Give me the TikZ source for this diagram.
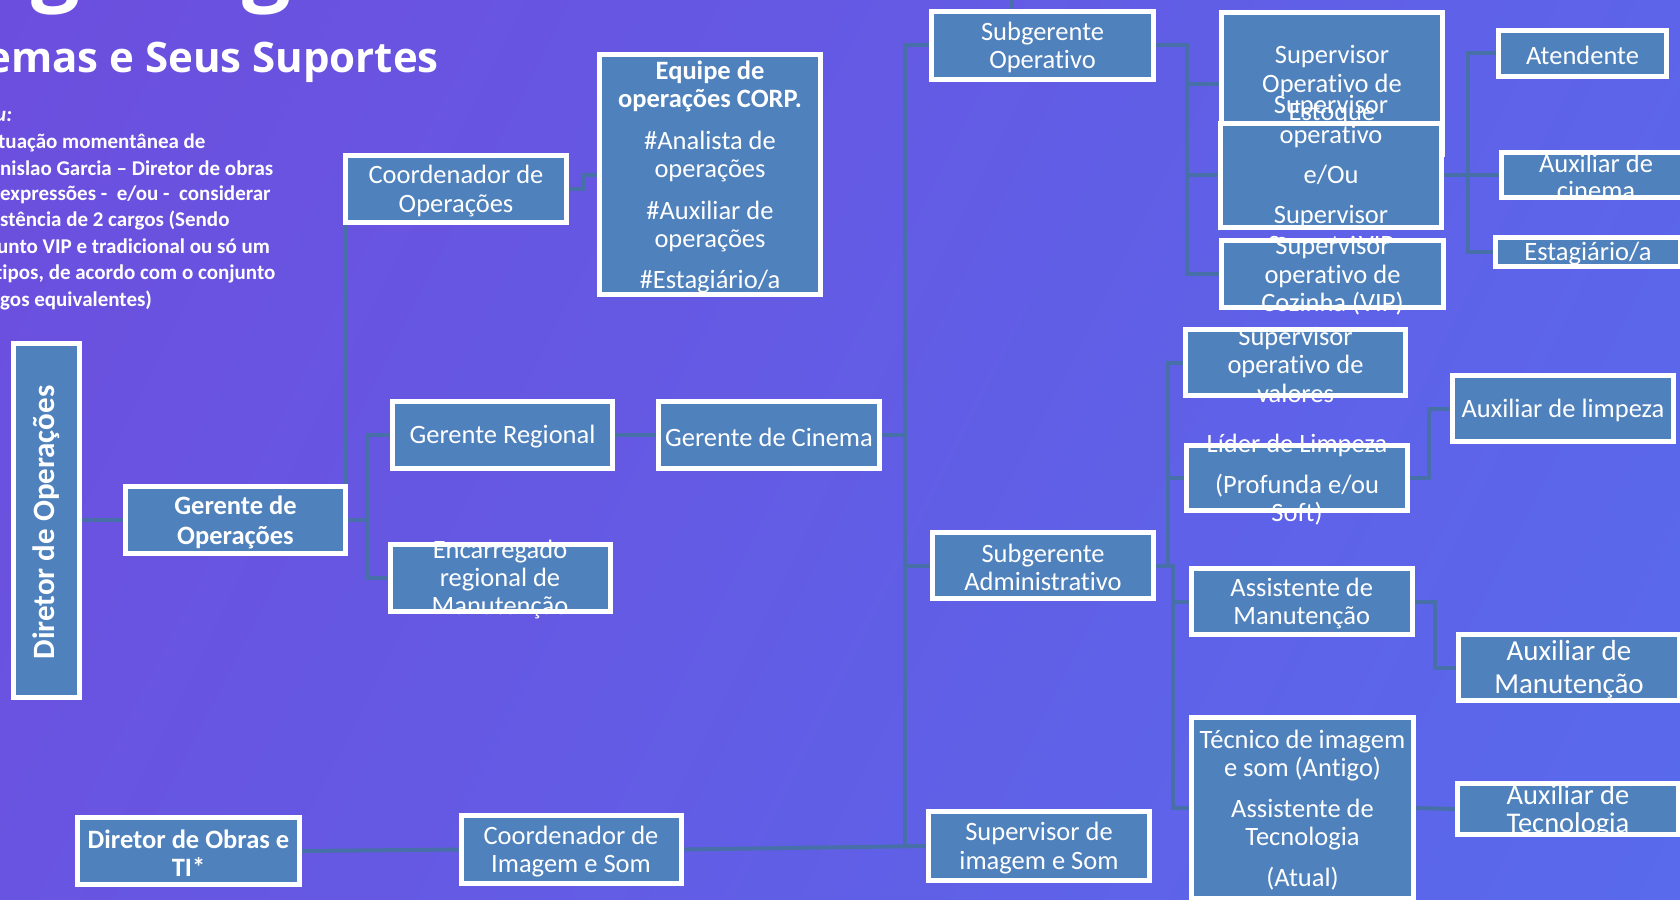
\documentclass[tikz,border=0pt]{standalone}
\usepackage{fontspec}
\setmainfont[Ligatures=NoCommon]{Carlito}
\newfontfamily\titlefont{Open Sans}
\definecolor{boxfill}{RGB}{79,129,189}
\definecolor{conn}{RGB}{72,112,168}
\pgfdeclarefunctionalshading{bgshade}{\pgfpointorigin}{\pgfpoint{100bp}{100bp}}{}{
 2 copy 0.00032 mul exch -0.00121 mul add 0.431 add
 3 1 roll
 2 copy -0.00047 mul exch 0.00173 mul add 0.298 add
 3 1 roll
 -0.00024 mul exch 0.00094 mul add 0.863 add
}
\pgfdeclarelayer{bglayer}
\pgfdeclarelayer{lines}
\pgfsetlayers{bglayer,lines,main}
\begin{document}
\begin{tikzpicture}[x=1pt,y=-1pt,
  orgbox/.style={rectangle, draw=white, line width=5pt, fill=boxfill, inner sep=0pt},
  boxtext/.style={text=white, align=center, inner sep=0pt, yshift=-2pt, font=\fontsize{26.5}{28.5}\selectfont},
  boldtext/.style={boxtext, font=\bfseries\fontsize{26.5}{28.5}\selectfont},
  conline/.style={draw=conn, line width=4pt, line cap=rect},
  notetext/.style={text=white, anchor=base west, inner sep=0pt, font=\bfseries\fontsize{21}{26}\selectfont}]
\useasboundingbox (0,0) rectangle (1680,899);
\begin{pgfonlayer}{bglayer}
\shade[shading=bgshade] (0,0) rectangle (1680,899);
\end{pgfonlayer}

% title and note
\node[anchor=base west, inner sep=0pt, text=white, font=\titlefont\bfseries\fontsize{86}{86}\selectfont] (bigtitle) at (-75,-5) {Organograma};
\node[anchor=base east, inner sep=0pt, text=white, font=\titlefont\bfseries\fontsize{42}{42}\selectfont] (subtitle) at (439,72) {emas e Seus Suportes};
\node[notetext] (n1) at (-5,121.7) {\textit{u:}};
\node[notetext] (n2) at (-2,148) {tuação momentânea de};
\node[notetext] (n3) at (0,175) {nislao Garcia – Diretor de obras};
\node[notetext] (n4) at (0,200) {expressões -\ \ e/ou -\ \ considerar};
\node[notetext] (n5) at (0,226.7) {stência de 2 cargos (Sendo};
\node[notetext] (n6) at (-3,253) {unto VIP e tradicional ou só um};
\node[notetext] (n7) at (-5,279) {tipos, de acordo com o conjunto};
\node[notetext] (n8) at (0,306) {gos equivalentes)};

% boxes
\node[orgbox, minimum width=66pt, minimum height=354pt] (dirop) at (46.5,520.5) {};
\node[boxtext, rotate=90, yshift=0pt, font=\bfseries\fontsize{31}{34}\selectfont] (dirop-t) at (dirop) {Diretor de Operações};

\node[orgbox, minimum width=220pt, minimum height=67pt] (gerop) at (235.5,520) {};
\node[boxtext, font=\bfseries\fontsize{26.5}{30}\selectfont] (gerop-t) at (gerop) {Gerente de\\Operações};

\node[orgbox, minimum width=221pt, minimum height=67pt] (coordop) at (456,189) {};
\node[boxtext] (coordop-t) at (coordop) {Coordenador de\\Operações};

\node[orgbox, minimum width=221pt, minimum height=240pt] (equipe) at (710,174.5) {};
\node[boxtext, font=\fontsize{26.5}{28}\selectfont] (equipe-t) at (equipe) {\textbf{Equipe de}\\\textbf{operações CORP.}\\[14pt]\#Analista de\\operações\\[14pt]\#Auxiliar de\\operações\\[13pt]\#Estagiário/a};

\node[orgbox, minimum width=220pt, minimum height=67pt] (gerreg) at (502.5,435) {};
\node[boxtext] (gerreg-t) at (gerreg) {Gerente Regional};

\node[orgbox, minimum width=221pt, minimum height=67pt] (gercin) at (769,435) {};
\node[boxtext] (gercin-t) at (gercin) {Gerente de Cinema};

\node[orgbox, minimum width=220pt, minimum height=67pt] (encarr) at (500,577.5) {};
\node[boxtext, font=\fontsize{26.5}{28}\selectfont] (encarr-t) at (encarr) {Encarregado\\regional de\\Manutenção};

\node[orgbox, minimum width=222pt, minimum height=68pt] (subop) at (1042.5,45.5) {};
\node[boxtext] (subop-t) at (subop) {Subgerente\\Operativo};

\node[orgbox, minimum width=221pt, minimum height=142pt] (estoque) at (1332,83.5) {};
\node[boxtext] (estoque-t) at (estoque) {Supervisor\\Operativo de\\Estoque};

\node[orgbox, minimum width=221pt, minimum height=104pt] (supop) at (1331,175) {};
\node[boxtext, font=\fontsize{26.5}{30}\selectfont] (supop-t) at (supop) {Supervisor\\operativo\\[10pt]e/Ou\\[10pt]Supervisor\\Suporte VIP};

\node[orgbox, minimum width=222pt, minimum height=67pt] (cozinha) at (1332.5,274) {};
\node[boxtext] (cozinha-t) at (cozinha) {Supervisor\\operativo de\\Cozinha (VIP)};

\node[orgbox, minimum width=168pt, minimum height=46pt] (atend) at (1582.5,53.5) {};
\node[boxtext] (atend-t) at (atend) {Atendente};

\node[orgbox, minimum width=189pt, minimum height=45pt] (auxcin) at (1596,175) {};
\node[boxtext, font=\fontsize{26.5}{27}\selectfont] (auxcin-t) at (auxcin) {Auxiliar de\\cinema};

\node[orgbox, minimum width=185pt, minimum height=29pt] (estag) at (1588,252) {};
\node[boxtext] (estag-t) at (estag) {Estagiário/a};

\node[orgbox, minimum width=220pt, minimum height=66pt] (valores) at (1295.5,362.5) {};
\node[boxtext] (valores-t) at (valores) {Supervisor\\operativo de\\valores};

\node[orgbox, minimum width=221pt, minimum height=65pt] (lider) at (1297,478) {};
\node[boxtext] (lider-t) at (lider) {Líder de Limpeza\\[12pt](Profunda e/ou\\Soft)};

\node[orgbox, minimum width=221pt, minimum height=66pt] (auxlimp) at (1563,408.5) {};
\node[boxtext] (auxlimp-t) at (auxlimp) {Auxiliar de limpeza};

\node[orgbox, minimum width=221pt, minimum height=66pt] (subadm) at (1043,565.5) {};
\node[boxtext] (subadm-t) at (subadm) {Subgerente\\Administrativo};

\node[orgbox, minimum width=220.5pt, minimum height=66pt] (assman) at (1301.75,601.5) {};
\node[boxtext] (assman-t) at (assman) {Assistente de\\Manutenção};

\node[orgbox, minimum width=221pt, minimum height=66pt] (auxman) at (1569,667.5) {};
\node[boxtext, font=\fontsize{29}{33}\selectfont] (auxman-t) at (auxman) {Auxiliar de\\Manutenção};

\node[orgbox, minimum width=222pt, minimum height=181pt] (tecnico) at (1302.5,808) {};
\node[boxtext] (tecnico-t) at (tecnico) {Técnico de imagem\\e som (Antigo)\\[12pt]Assistente de\\Tecnologia\\[12pt](Atual)};

\node[orgbox, minimum width=221pt, minimum height=51pt] (auxtec) at (1568,809) {};
\node[boxtext, font=\fontsize{28.5}{28.5}\selectfont] (auxtec-t) at (auxtec) {Auxiliar de\\Tecnologia};

\node[orgbox, minimum width=221pt, minimum height=69pt] (supimg) at (1039,846) {};
\node[boxtext] (supimg-t) at (supimg) {Supervisor de\\imagem e Som};

\node[orgbox, minimum width=220pt, minimum height=68pt] (coordimg) at (571,849.5) {};
\node[boxtext] (coordimg-t) at (coordimg) {Coordenador de\\Imagem e Som};

\node[orgbox, minimum width=222pt, minimum height=67pt] (dirobras) at (188.5,851) {};
\node[boldtext] (dirobras-t) at (dirobras) {Diretor de Obras e\\TI*};

% connectors
\begin{pgfonlayer}{lines}
\coordinate (j1) at (367,520);
\coordinate (sp1) at (905,435);
\coordinate (sp2) at (1187,45.5);
\coordinate (sp3) at (1468,175);
\coordinate (sp4a) at (1168,565.5);
\coordinate (sp4b) at (1173,565.5);
\coordinate (stub) at (1012,-5);
\draw[conline] (gerop.west) -- (gerop.west -| dirop.east);
\draw[conline] (gerop.east) -- (j1);
\draw[conline] (gerreg.west) -| (j1);
\draw[conline] (encarr.west) -| (j1);
\draw[conline] ([xshift=2.5pt]coordop.south west) -- ([xshift=2.5pt]coordop.south west |- gerop.north);
\draw[conline] (coordop.east) -- ([xshift=14pt]coordop.east) |- (equipe.west);
\draw[conline] (gerreg.east) -- (gercin.west);
\draw[conline] (gercin.east) -- (sp1);
\draw[conline] (subop.west) -| (sp1);
\draw[conline] (subadm.west) -| (sp1);
\draw[conline] (supimg.west) -| (sp1);
\draw[conline] (dirobras.east) -- (coordimg.west);
\draw[conline] (coordimg.east) -- (supimg.west);
\draw[conline] (stub |- subop.north) -- (stub);
\draw[conline] (subop.east) -- (sp2);
\draw[conline] (estoque.west) -| (sp2);
\draw[conline] (supop.west) -| (sp2);
\draw[conline] (cozinha.west) -| (sp2);
\draw[conline] (supop.east) -- (sp3);
\draw[conline] (atend.west) -| (sp3);
\draw[conline] (auxcin.west) -| (sp3);
\draw[conline] (estag.west) -| (sp3);
\draw[conline] (subadm.east) -- (sp4b);
\draw[conline] (valores.west) -| (sp4a);
\draw[conline] (lider.west) -| (sp4a);
\draw[conline] (assman.west) -| (sp4b);
\draw[conline] (tecnico.west) -| (sp4b);
\draw[conline] (lider.east) -- ([xshift=19pt]lider.east) |- (auxlimp.west);
\draw[conline] (assman.east) -- ([xshift=20.5pt]assman.east) |- (auxman.west);
\draw[conline] (tecnico.east) -- (auxtec.west);
\end{pgfonlayer}
\end{tikzpicture}
\end{document}
